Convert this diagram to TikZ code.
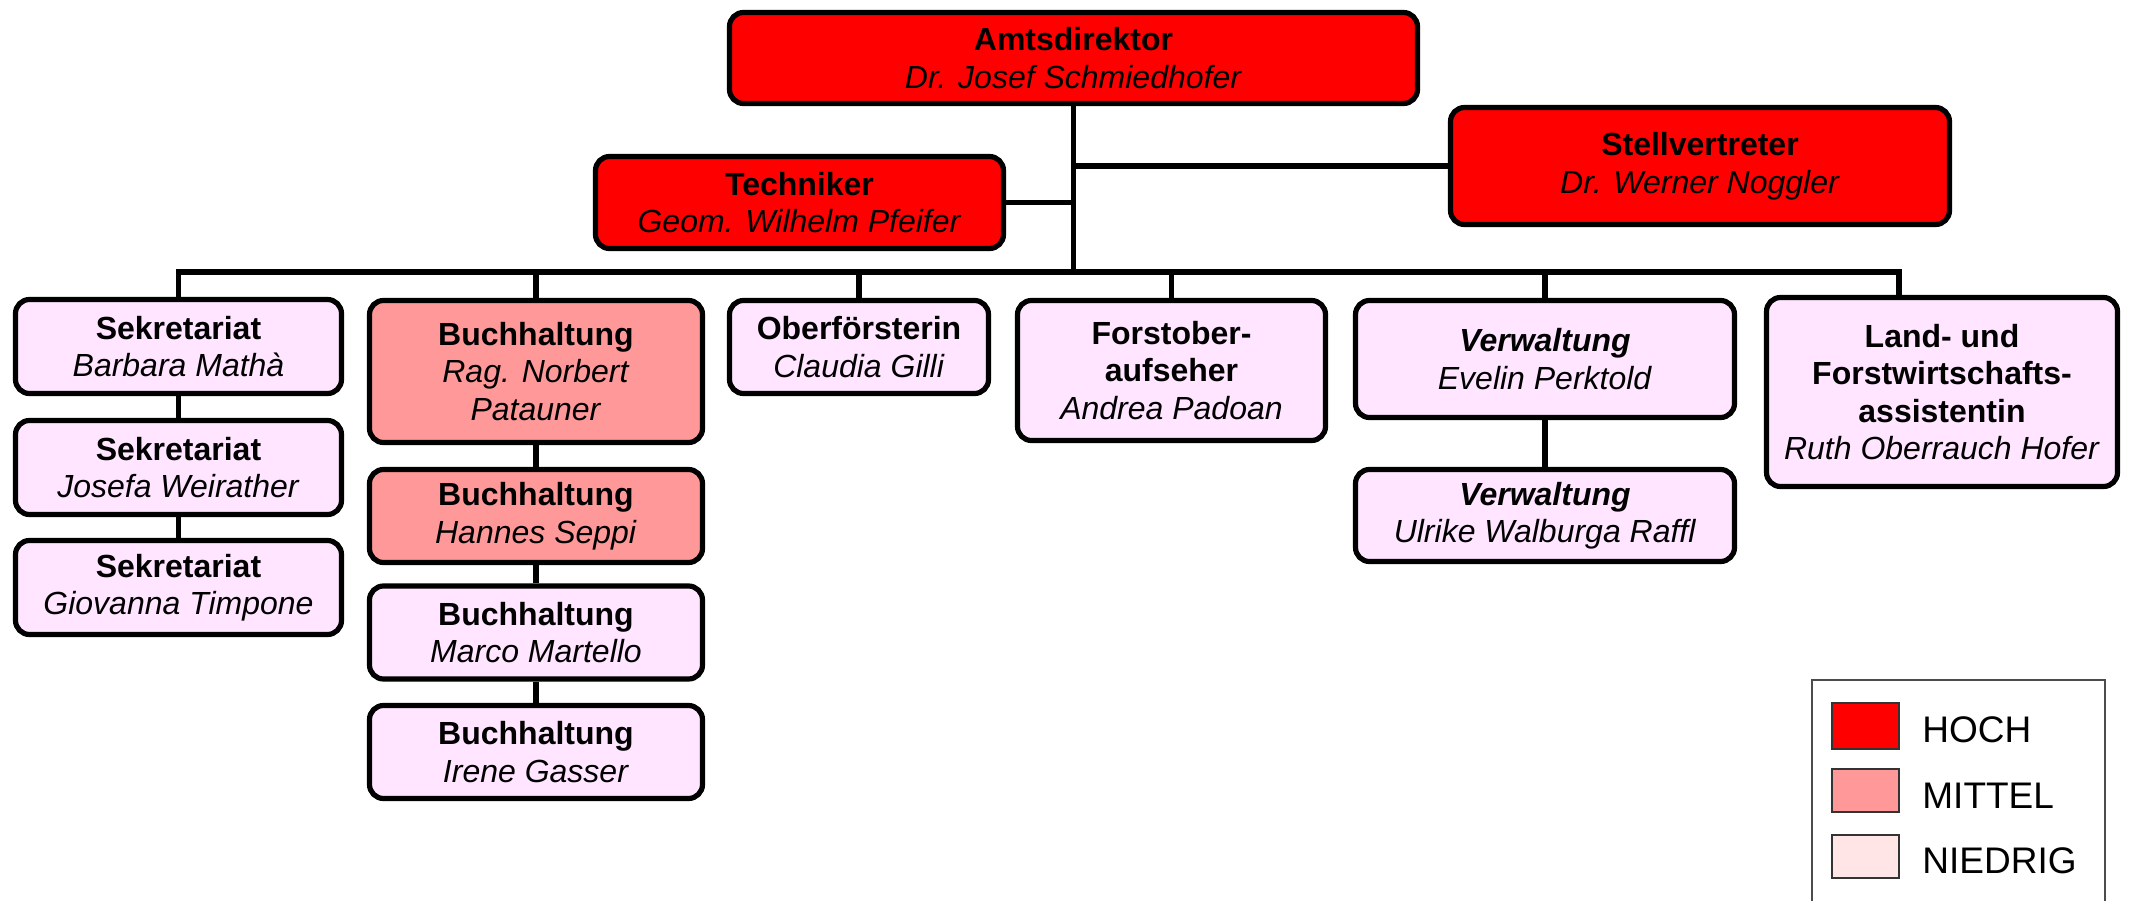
\documentclass[tikz,border=0pt]{standalone}
\usepackage{fontspec}
\setmainfont{Liberation Sans}
\definecolor{hochred}{HTML}{FF0000}
\definecolor{mittelred}{HTML}{FF9999}
\definecolor{niedrigpink}{HTML}{FFE5FF}
\definecolor{legendpink}{HTML}{FFE5E5}
\tikzset{
    box/.style={draw, line width=2.6pt, rounded corners=7pt, align=center, inner sep=2pt, font=\fontsize{16}{18.75}\selectfont},
    hoch/.style={box, fill=hochred},
    mittel/.style={box, fill=mittelred},
    niedrig/.style={box, fill=niedrigpink},
    link/.style={line width=2.6pt},
    swatch/.style={draw=black!80, line width=0.7pt},
    legend text/.style={anchor=base west, inner sep=0pt, font=\fontsize{18.5}{20}\selectfont},
}
\begin{document}
\begin{tikzpicture}[x=0.5pt, y=-0.5pt]
    \useasboundingbox (0,0) rectangle (2132,900);
    \clip (0,0) rectangle (2132,900);
    \node[hoch, minimum width=344pt, minimum height=45.5pt] (amt) at (1073.5,58) {\textbf{Amtsdirektor}\\\textit{Dr. Josef Schmiedhofer}};
    \node[hoch, minimum width=249.5pt, minimum height=58.5pt] (stv) at (1700,166) {\textbf{Stellvertreter}\\\textit{Dr. Werner Noggler}};
    \node[hoch, minimum width=204pt, minimum height=46pt] (tech) at (799.5,202.5) {\textbf{Techniker}\\\textit{Geom. Wilhelm Pfeifer}};
    \node[niedrig, minimum width=163pt, minimum height=47pt] (sek1) at (178.5,346.5) {\textbf{Sekretariat}\\\textit{Barbara Mathà}};
    \node[niedrig, minimum width=163pt, minimum height=47pt] (sek2) at (178.5,467.5) {\textbf{Sekretariat}\\\textit{Josefa Weirather}};
    \node[niedrig, minimum width=163pt, minimum height=47pt] (sek3) at (178.5,587.5) {\textbf{Sekretariat}\\\textit{Giovanna Timpone}};
    \node[mittel, minimum width=166.5pt, minimum height=71pt] (buch1) at (536,371.5) {\textbf{Buchhaltung}\\\textit{Rag. Norbert}\\\textit{Patauner}};
    \node[mittel, minimum width=166.5pt, minimum height=46.5pt] (buch2) at (536,516) {\textbf{Buchhaltung}\\\textit{Hannes Seppi}};
    \node[niedrig, minimum width=166.5pt, minimum height=46.5pt] (buch3) at (536,632.5) {\textbf{Buchhaltung}\\\textit{Marco Martello}};
    \node[niedrig, minimum width=166.5pt, minimum height=46.5pt] (buch4) at (536,752) {\textbf{Buchhaltung}\\\textit{Irene Gasser}};
    \node[niedrig, minimum width=129.5pt, minimum height=46.5pt] (ober) at (859,347) {\textbf{Oberförsterin}\\\textit{Claudia Gilli}};
    \node[niedrig, minimum width=154pt, minimum height=70pt] (forst) at (1171.5,370.5) {\textbf{Forstober-}\\\textbf{aufseher}\\\textit{Andrea Padoan}};
    \node[niedrig, minimum width=189.5pt, minimum height=58.5pt] (verw1) at (1545,359) {\textbf{\textit{Verwaltung}}\\\textit{Evelin Perktold}};
    \node[niedrig, minimum width=189.5pt, minimum height=46pt] (verw2) at (1545,515.5) {\textbf{\textit{Verwaltung}}\\\textit{Ulrike Walburga Raffl}};
    \node[niedrig, minimum width=175.5pt, minimum height=94.5pt] (land) at (1942,392) {\textbf{Land- und}\\\textbf{Forstwirtschafts-}\\\textbf{assistentin}\\\textit{Ruth Oberrauch Hofer}};
    \coordinate (busR) at (1899,272);
    \draw[link] (amt.south) -- (amt.south |- busR);
    \draw[link] (stv.west) -- (stv.west -| amt.south);
    \draw[link] (tech.east) -- (tech.east -| amt.south);
    \draw[link] (sek1.north) |- (busR) -- (busR |- land.north);
    \foreach \n in {buch1, ober, forst, verw1}
        \draw[link] (\n.north) -- (\n.north |- busR);
    \draw[link] (sek1.south) -- (sek2.north);
    \draw[link] (sek2.south) -- (sek3.north);
    \draw[link] (buch1.south) -- (buch2.north);
    \draw[link] (buch2.south) -- (buch3.north);
    \draw[link] (buch3.south) -- (buch4.north);
    \draw[link] (verw1.south) -- (verw2.north);
    \draw[draw=black!70, line width=0.6pt] (1812,680) rectangle (2105,910);
    \draw[swatch, fill=hochred] (1832,703) rectangle (1899,749);
    \draw[swatch, fill=mittelred] (1832,769) rectangle (1899,812);
    \draw[swatch, fill=legendpink] (1832,835) rectangle (1899,878);
    \node[legend text] (lhoch) at (1922,742) {HOCH};
    \node[legend text] (lmittel) at (1922,808) {MITTEL};
    \node[legend text] (lniedrig) at (1922,873) {NIEDRIG};
\end{tikzpicture}
\end{document}
